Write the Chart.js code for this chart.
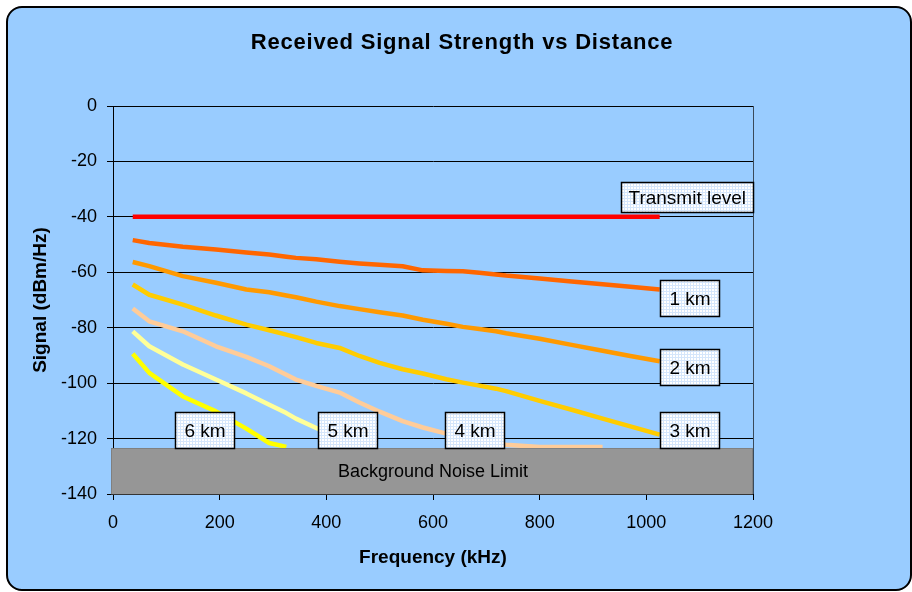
<!DOCTYPE html>
<html>
<head>
<meta charset="utf-8">
<script src="https://cdn.jsdelivr.net/npm/chart.js@4/dist/chart.umd.min.js"></script>
<style>
  html, body { margin: 0; padding: 0; background: #ffffff; }
  #wrap { width: 912px; height: 592px; }
</style>
</head>
<body>
<div id="wrap"><canvas id="c" width="912" height="592"></canvas></div>
<script>
// ---- data -------------------------------------------------------------
const chartTitle = 'Received Signal Strength vs Distance';
const xAxisTitle = 'Frequency (kHz)';
const yAxisTitle = 'Signal (dBm/Hz)';
const noiseText = 'Background Noise Limit';

const freqKHz = [37, 68, 131, 193, 250, 293, 325, 343, 381, 425, 462, 500,
                 543, 581, 625, 656, 687, 718, 737, 800, 860, 918, 970, 1025];

const transmitLevel = [-40, -40, -40, -40, -40, -40, -40, -40, -40, -40, -40, -40,
                       -40, -40, -40, -40, -40, -40, -40, -40, -40, -40, -40, -40];
const signal1km = [-48.4, -49.4, -50.8, -51.8, -52.9, -53.6, -54.4, -54.8, -55.3, -56.2, -56.8, -57.3,
                   -57.8, -59.3, -59.5, -59.6, -60.2, -60.8, -61.2, -62.2, -63.3, -64.3, -65.2, -66.2];
const signal2km = [-56.3, -57.8, -61.4, -63.8, -66.2, -67.2, -68.4, -69.0, -70.6, -72.2, -73.3, -74.4,
                   -75.6, -77.1, -78.6, -79.7, -80.5, -81.3, -82.0, -84.0, -86.2, -88.3, -90.2, -92.1];
const signal3km = [-64.4, -68.1, -71.7, -75.6, -78.9, -80.9, -82.5, -83.4, -85.5, -87.3, -90.2, -92.7,
                   -95.0, -96.5, -98.6, -99.8, -100.9, -102.0, -102.9, -106.4, -109.6, -112.8, -115.6, -118.6];
const signal4km = [-73.1, -77.7, -81.3, -86.7, -90.5, -93.9, -97.0, -98.7, -101.0, -103.4, -107.0, -110.3,
                   -113.7, -116.0, -118.2, -119.8, -121.0, -121.8, -122.2, -123.0, -123.0, -123.0, null, null];
const signal5km = [-81.3, -86.7, -93.3, -98.7, -103.7, -107.8, -110.8, -112.8, -116.2, -120.0, -123.0, null,
                   null, null, null, null, null, null, null, null, null, null, null, null];
const signal6km = [-89.4, -96.3, -104.8, -110.2, -116.4, -121.6, -123.0, null, null, null, null, null,
                   null, null, null, null, null, null, null, null, null, null, null, null];

const seriesNames = ['Transmit level', '1 km', '2 km', '3 km', '4 km', '5 km', '6 km'];
const seriesValues = [transmitLevel, signal1km, signal2km, signal3km, signal4km, signal5km, signal6km];

const noiseFloor = -123.4;          // top of the background noise band (dBm/Hz)
const xTicks = [0, 200, 400, 600, 800, 1000, 1200];
const yTicks = [0, -20, -40, -60, -80, -100, -120, -140];

// ---- styling ----------------------------------------------------------
const FONT = '"Liberation Sans", Arial, Helvetica, sans-serif';
const BG = '#99CCFF';
const seriesColors = ['#FF0000', '#FF6600', '#FF9900', '#FFCC00', '#FFCC99', '#FFFF99', '#FFFF00'];

// callout boxes: left edge (kHz), vertical centre (dBm/Hz), box height (px)
const calloutPlacement = [
  { x: 952,  y: -32.9,  h: 30 },
  { x: 1025, y: -69.2,  h: 36 },
  { x: 1025, y: -94.2,  h: 36 },
  { x: 1025, y: -116.9, h: 36 },
  { x: 622,  y: -116.9, h: 36 },
  { x: 385,  y: -116.9, h: 36 },
  { x: 116,  y: -116.9, h: 36 }
];

Chart.defaults.font.family = FONT;
Chart.defaults.color = '#000';

// fine white / pale-blue mesh used to fill the callout boxes
function meshPattern(ctx) {
  const p = document.createElement('canvas');
  p.width = 3; p.height = 3;
  const g = p.getContext('2d');
  g.fillStyle = '#ffffff';
  g.fillRect(0, 0, 3, 3);
  g.fillStyle = '#d5e6fb';
  g.fillRect(0, 0, 3, 1);
  g.fillRect(0, 0, 1, 3);
  return ctx.createPattern(p, 'repeat');
}

function roundRect(ctx, x, y, w, h, r) {
  ctx.beginPath();
  ctx.moveTo(x + r, y);
  ctx.lineTo(x + w - r, y);
  ctx.arcTo(x + w, y, x + w, y + r, r);
  ctx.lineTo(x + w, y + h - r);
  ctx.arcTo(x + w, y + h, x + w - r, y + h, r);
  ctx.lineTo(x + r, y + h);
  ctx.arcTo(x, y + h, x, y + h - r, r);
  ctx.lineTo(x, y + r);
  ctx.arcTo(x, y, x + r, y, r);
  ctx.closePath();
}

// rounded blue panel behind everything
const panelPlugin = {
  id: 'panel',
  beforeDraw(chart) {
    const ctx = chart.ctx;
    ctx.save();
    ctx.fillStyle = '#ffffff';
    ctx.fillRect(0, 0, chart.width, chart.height);
    roundRect(ctx, 7, 7, 904, 583, 15);
    ctx.fillStyle = BG;
    ctx.fill();
    ctx.lineWidth = 2;
    ctx.strokeStyle = '#000';
    ctx.stroke();
    ctx.restore();
  }
};

// noise band, plot frame edge, callouts and the chart heading
const overlayPlugin = {
  id: 'overlay',
  afterDatasetsDraw(chart) {
    const ctx = chart.ctx;
    const xs = chart.scales.x, ys = chart.scales.y;
    const area = chart.chartArea;
    ctx.save();

    // right edge of the plot frame
    ctx.strokeStyle = '#3a4a5a';
    ctx.lineWidth = 1;
    ctx.beginPath();
    ctx.moveTo(Math.round(area.right) + 0.5, area.top);
    ctx.lineTo(Math.round(area.right) + 0.5, area.bottom);
    ctx.stroke();

    // background noise band
    const nTop = ys.getPixelForValue(noiseFloor);
    const nBot = ys.getPixelForValue(-140);
    const nLeft = xs.getPixelForValue(0) - 2;
    const nRight = xs.getPixelForValue(1200);
    ctx.fillStyle = '#969696';
    ctx.fillRect(nLeft, nTop, nRight - nLeft, nBot - nTop);
    ctx.setLineDash([1, 1]);
    ctx.strokeStyle = '#6a6a6a';
    ctx.strokeRect(nLeft + 0.5, nTop + 0.5, nRight - nLeft - 1, nBot - nTop);
    ctx.setLineDash([]);
    ctx.fillStyle = '#000';
    ctx.font = '18px ' + FONT;
    ctx.textAlign = 'center';
    ctx.textBaseline = 'middle';
    ctx.fillText(noiseText, (area.left + area.right) / 2, (nTop + nBot) / 2 + 1);

    // callout boxes naming each curve
    const pat = meshPattern(ctx);
    ctx.font = '19px ' + FONT;
    ctx.textAlign = 'left';
    seriesNames.forEach((name, i) => {
      const pl = calloutPlacement[i];
      const tw = ctx.measureText(name).width;
      const padX = i === 0 ? 7 : 9;
      const w = Math.round(tw + 2 * padX);
      const x = Math.round(xs.getPixelForValue(pl.x)) + 0.5;
      const y = Math.round(ys.getPixelForValue(pl.y) - pl.h / 2) + 0.5;
      ctx.fillStyle = pat;
      ctx.fillRect(x, y, w, pl.h);
      ctx.lineWidth = 1.5;
      ctx.strokeStyle = '#000';
      ctx.strokeRect(x, y, w, pl.h);
      ctx.fillStyle = '#000';
      ctx.fillText(name, x + padX, y + pl.h / 2 + 1);
    });

    // heading
    ctx.font = 'bold 22px ' + FONT;
    ctx.textAlign = 'center';
    ctx.textBaseline = 'middle';
    if ('letterSpacing' in ctx) ctx.letterSpacing = '0.8px';
    ctx.fillStyle = '#000';
    ctx.fillText(chartTitle, 462, 43);
    ctx.restore();
  }
};

const datasets = seriesNames.map((name, i) => ({
  label: name,
  data: freqKHz.map((f, j) => ({ x: f, y: seriesValues[i][j] })),
  borderColor: seriesColors[i],
  backgroundColor: seriesColors[i],
  borderWidth: 4.5,
  borderCapStyle: 'butt',
  borderJoinStyle: 'round',
  pointRadius: 0,
  tension: 0,
  spanGaps: false,
  fill: false
})).reverse();

new Chart(document.getElementById('c'), {
  type: 'line',
  data: { datasets },
  options: {
    responsive: false,
    animation: false,
    layout: { padding: { left: 13, right: 159, top: 106, bottom: 18 } },
    plugins: {
      legend: { display: false },
      title: { display: false },
      tooltip: { enabled: false }
    },
    scales: {
      x: {
        type: 'linear',
        min: xTicks[0],
        max: xTicks[xTicks.length - 1],
        afterBuildTicks: s => { s.ticks = xTicks.map(v => ({ value: v })); },
        ticks: { color: '#000', font: { size: 18 }, padding: 12, maxRotation: 0, autoSkip: false,
                 callback: v => String(v) },
        grid: { drawOnChartArea: false, drawTicks: true, tickLength: 6, color: '#000' },
        border: { color: '#000', width: 1 },
        title: { display: true, text: xAxisTitle, color: '#000',
                 font: { size: 19, weight: 'bold' }, padding: { top: 0, bottom: 5 } },
        afterFit: s => { s.height = 80; }
      },
      y: {
        type: 'linear',
        min: yTicks[yTicks.length - 1],
        max: yTicks[0],
        afterBuildTicks: s => { s.ticks = yTicks.slice().reverse().map(v => ({ value: v })); },
        ticks: { color: '#000', font: { size: 18 }, padding: 10, autoSkip: false,
                 callback: v => String(v) },
        grid: { color: '#000', lineWidth: 1, tickLength: 6, drawTicks: true },
        border: { color: '#000', width: 1 },
        title: { display: true, text: yAxisTitle, color: '#000',
                 font: { size: 19, weight: 'bold' }, padding: { top: 16, bottom: 4 } },
        afterFit: s => { s.width = 100; }
      }
    }
  },
  plugins: [panelPlugin, overlayPlugin]
});
</script>
</body>
</html>
